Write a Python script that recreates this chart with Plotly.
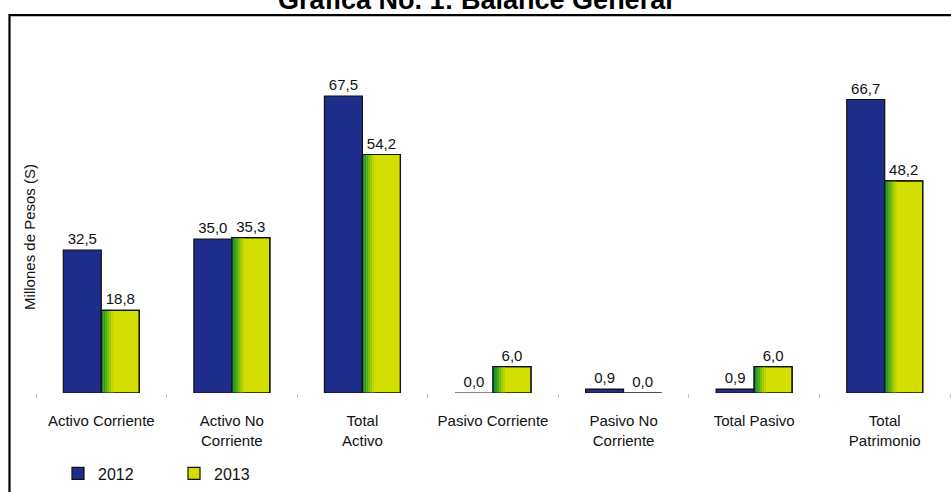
import plotly.graph_objects as go

# ---- data ----
categories = ["Activo Corriente", "Activo No<br>Corriente", "Total<br>Activo",
              "Pasivo Corriente", "Pasivo No<br>Corriente", "Total Pasivo",
              "Total<br>Patrimonio"]
values_2012 = [32.5, 35.0, 67.5, 0.0, 0.9, 0.9, 66.7]
values_2013 = [18.8, 35.3, 54.2, 6.0, 0.0, 6.0, 48.2]
series_names = ["2012", "2013"]
title_text = "Gráfica No. 1: Balance General"
y_title = "Millones de Pesos (S)"

# ---- style ----
FONT = "Liberation Sans, Arial, sans-serif"
BLUE = "#1F2D8A"
YELLOW = "#D3DF00"
BAR_W = 0.291          # fraction of category width for each bar
PX_PER_CAT = 914 / 7.0
strip_colors = ["#0A8A3A", "#279A2A", "#4BAA1C", "#74BC10", "#9ECB07", "#BDD602"]
strip_px = 2.0

fig = go.Figure()

fig.add_trace(go.Bar(
    x=categories, y=values_2012, name=series_names[0],
    marker=dict(color=BLUE, line=dict(color="#111111", width=1.2)),
    offset=-BAR_W, width=BAR_W,
    texttemplate="%{y:.1f}", textposition="outside",
    textfont=dict(size=15, color="#111111", family=FONT),
    cliponaxis=False,
))

fig.add_trace(go.Bar(
    x=categories, y=values_2013, name=series_names[1],
    marker=dict(color=YELLOW, line=dict(color="#111111", width=1.2)),
    offset=0, width=BAR_W,
    texttemplate="%{y:.1f}", textposition="outside",
    textfont=dict(size=15, color="#111111", family=FONT),
    cliponaxis=False,
))

# green-to-yellow shading on the left of the 2013 bars
sw = strip_px / PX_PER_CAT
for i, c in enumerate(strip_colors):
    fig.add_trace(go.Bar(
        x=categories, y=values_2013, showlegend=False, hoverinfo="skip",
        marker=dict(color=c, line=dict(width=0)),
        offset=i * sw, width=sw, cliponaxis=False,
    ))

# outline on top of shading
fig.add_trace(go.Bar(
    x=categories, y=values_2013, showlegend=False, hoverinfo="skip",
    marker=dict(color="rgba(0,0,0,0)", line=dict(color="#111111", width=1.2)),
    offset=0, width=BAR_W, cliponaxis=False,
))

fig.update_layout(
    width=951, height=492,
    margin=dict(l=36, r=1, t=41, b=97),
    barmode="overlay",
    separators=",.",
    plot_bgcolor="white", paper_bgcolor="white",
    font=dict(family=FONT, size=15, color="#111111"),
    showlegend=True,
    legend=dict(orientation="h", x=(58 - 36) / 914, xanchor="left",
                y=(395 - 476) / 354, yanchor="middle",
                font=dict(size=16, family=FONT, color="#111111"),
                entrywidth=71, entrywidthmode="pixels",
                bgcolor="rgba(0,0,0,0)"),
    xaxis=dict(type="category", tickson="boundaries", ticks="outside",
               ticklen=4, tickcolor="#BFBFBF", tickwidth=1,
               ticklabelstandoff=17,
               showline=False, showgrid=False, zeroline=False,
               tickfont=dict(size=15, family=FONT, color="#111111")),
    yaxis=dict(range=[0, 80], showticklabels=False, showgrid=False,
               zeroline=False, showline=False, ticks=""),
    shapes=[dict(type="rect", xref="paper", yref="paper",
                 x0=(9.5 - 36) / 914, x1=1.05,
                 y0=-0.3, y1=(395 - 15) / 354,
                 line=dict(color="black", width=2.2), fillcolor="rgba(0,0,0,0)",
                 layer="below")],
    annotations=[
        dict(text="<b>" + title_text + "</b>", xref="paper", yref="paper",
             x=(475 - 36) / 914, y=(395 + 0) / 354, xanchor="center",
             yanchor="middle", showarrow=False,
             font=dict(size=27, family=FONT, color="black")),
        dict(text=y_title, xref="paper", yref="paper",
             x=(30 - 36) / 914, y=(395 - 238) / 354, xanchor="center",
             yanchor="middle", textangle=-90, showarrow=False,
             font=dict(size=15, family=FONT, color="#111111")),
    ],
)

fig.write_html("out.html", config={"displayModeBar": False},
               post_script="document.body.style.margin='0';")
